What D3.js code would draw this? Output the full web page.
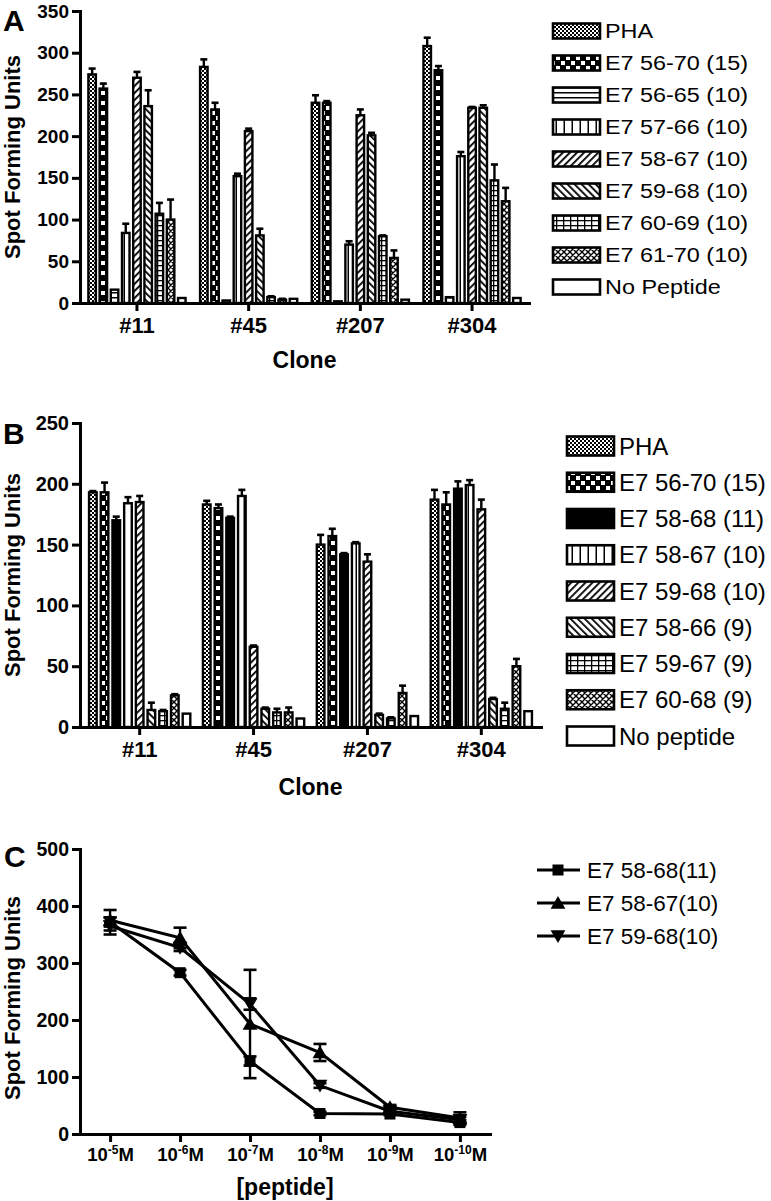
<!DOCTYPE html>
<html><head><meta charset="utf-8">
<script src="https://cdn.jsdelivr.net/npm/d3@7"></script>
<style>body{margin:0;background:#fff} svg text{font-family:Arial,"Liberation Sans",sans-serif}</style>
</head><body>
<svg id="c" width="771" height="1201"></svg>
<script>
// ---------- Panel A data ----------
const clonesA = ["#11", "#45", "#207", "#304"];
const seriesA = ["PHA", "E7 56-70 (15)", "E7 56-65 (10)", "E7 57-66 (10)", "E7 58-67 (10)", "E7 59-68 (10)", "E7 60-69 (10)", "E7 61-70 (10)", "No Peptide"];
const a_PHA = [274, 283, 240, 308],  a_PHA_err = [7, 9, 9, 10];
const a_5670 = [257, 232, 240, 279], a_5670_err = [6, 8, 2, 5];
const a_5665 = [16, 3, 2, 7],        a_5665_err = [0, 0, 0, 0];
const a_5766 = [84, 152, 70, 176],   a_5766_err = [11, 3, 4, 5];
const a_5867 = [270, 206, 225, 234], a_5867_err = [7, 3, 7, 1];
const a_5968 = [236, 81, 201, 234],  a_5968_err = [19, 8, 3, 3];
const a_6069 = [107, 7, 80, 147],    a_6069_err = [13, 1, 1, 19];
const a_6170 = [100, 4, 54, 122],    a_6170_err = [24, 1, 9, 16];
const a_NoPep = [6, 5, 4, 6],        a_NoPep_err = [0, 0, 0, 0];
const yTicksA = [0, 50, 100, 150, 200, 250, 300, 350];

// ---------- Panel B data ----------
const clonesB = ["#11", "#45", "#207", "#304"];
const seriesB = ["PHA", "E7 56-70 (15)", "E7 58-68 (11)", "E7 58-67 (10)", "E7 59-68 (10)", "E7 58-66 (9)", "E7 59-67 (9)", "E7 60-68 (9)", "No peptide"];
const b_PHA = [193, 183, 150, 187],  b_PHA_err = [1, 3, 8, 8];
const b_5670 = [193, 180, 157, 183], b_5670_err = [8, 3, 6, 10];
const b_5868 = [170, 172, 142, 196], b_5868_err = [3, 1, 1, 6];
const b_5867 = [184, 190, 151, 199], b_5867_err = [5, 5, 1, 4];
const b_5968 = [185, 66, 136, 179],  b_5968_err = [5, 1, 6, 8];
const b_5866 = [14, 15, 10, 23],     b_5866_err = [6, 1, 1, 1];
const b_5967 = [13, 12, 7, 15],      b_5967_err = [1, 3, 1, 5];
const b_6068 = [26, 12, 28, 50],     b_6068_err = [1, 4, 6, 6];
const b_NoPep = [11, 7, 9, 13],      b_NoPep_err = [0, 0, 0, 0];
const yTicksB = [0, 50, 100, 150, 200, 250];

// ---------- Panel C data ----------
const concExp = ["-5", "-6", "-7", "-8", "-9", "-10"];
const seriesC = ["E7 58-68(11)", "E7 58-67(10)", "E7 59-68(10)"];
const c_5868 = [372, 283, 128, 36, 35, 20],  c_5868_err = [8, 5, 8, 3, 2, 4];
const c_5867 = [375, 344, 193, 143, 47, 28], c_5867_err = [18, 18, 95, 15, 4, 10];
const c_5968 = [365, 327, 228, 85, 40, 25],  c_5968_err = [15, 6, 10, 4, 3, 5];
const yTicksC = [0, 100, 200, 300, 400, 500];

// ---------- setup ----------
const svg = d3.select("#c");
const defs = svg.append("defs");
function pat(id, w, h, build, transform) {
  const p = defs.append("pattern").attr("id", id).attr("patternUnits", "userSpaceOnUse")
    .attr("width", w).attr("height", h);
  if (transform) p.attr("patternTransform", transform);
  p.append("rect").attr("width", w).attr("height", h).attr("fill", "#fff");
  build(p);
}
pat("pha", 4, 4, p => {
  p.append("rect").attr("width", 2).attr("height", 2);
  p.append("rect").attr("x", 2).attr("y", 2).attr("width", 2).attr("height", 2);
});
pat("chk", 10, 10, p => {
  p.append("rect").attr("width", 10).attr("height", 10).attr("fill", "#000");
  p.append("rect").attr("x", 1).attr("y", 1).attr("width", 4).attr("height", 4).attr("fill", "#fff");
  p.append("rect").attr("x", 6).attr("y", 6).attr("width", 4).attr("height", 4).attr("fill", "#fff");
});
pat("hor", 6, 5, p => p.append("rect").attr("y", 2).attr("width", 6).attr("height", 1.5));
pat("ver", 8, 6, p => p.append("rect").attr("x", 3.5).attr("width", 1.5).attr("height", 6));
pat("dr", 5, 5, p => p.append("rect").attr("width", 1.8).attr("height", 5), "rotate(45)");
pat("dl", 5, 5, p => p.append("rect").attr("width", 1.8).attr("height", 5), "rotate(-45)");
pat("grid", 7, 5, p => {
  p.append("rect").attr("width", 7).attr("height", 1.3);
  p.append("rect").attr("x", 3).attr("width", 1.3).attr("height", 5);
});
pat("cross", 6, 6, p => p.append("path").attr("d", "M0,0L6,6M6,0L0,6M-1,5L1,7M5,-1L7,1M-1,1L1,-1M5,7L7,5")
  .attr("stroke", "#000").attr("stroke-width", 1.4));

const FONT = 'Arial, "Liberation Sans", sans-serif';

function styleAxis(g, fs) {
  g.attr("font-family", FONT).attr("font-size", fs).attr("font-weight", "bold");
  g.selectAll("path.domain").attr("stroke-width", 3).attr("stroke-linecap", "square");
  g.selectAll(".tick line").attr("stroke-width", 3);
  g.selectAll(".tick text").attr("fill", "#000");
}

function barPanel(cfg) {
  const y = d3.scaleLinear().domain([0, cfg.yMax]).range([cfg.y0, cfg.yTop]);
  const x0 = d3.scaleBand().domain(cfg.clones).range([cfg.xl, cfg.xr])
    .paddingInner(cfg.pi).paddingOuter(cfg.po);
  const x1 = d3.scaleBand().domain(cfg.series).range([0, x0.bandwidth()])
    .paddingInner(cfg.pi1).paddingOuter(cfg.po1);
  const g = svg.append("g");
  cfg.series.forEach((s, si) => {
    const vals = cfg.values[si], errs = cfg.errors[si];
    const gs = g.append("g");
    const cx = c => x0(c) + x1(s) + x1.bandwidth() / 2;
    const eb = gs.selectAll("g.eb").data(cfg.clones.map((c, i) => ({c, v: vals[i], e: errs[i]})).filter(d => d.e > 0))
      .join("g").attr("class", "eb");
    eb.append("line").attr("x1", d => cx(d.c)).attr("x2", d => cx(d.c))
      .attr("y1", d => y(d.v)).attr("y2", d => y(d.v + d.e)).attr("stroke", "#000").attr("stroke-width", 2.4);
    eb.append("line").attr("x1", d => cx(d.c) - 3.5).attr("x2", d => cx(d.c) + 3.5)
      .attr("y1", d => y(d.v + d.e)).attr("y2", d => y(d.v + d.e)).attr("stroke", "#000").attr("stroke-width", 2.6);
    gs.selectAll("rect").data(cfg.clones).join("rect")
      .attr("x", c => x0(c) + x1(s)).attr("y", (c, i) => y(vals[i]))
      .attr("width", x1.bandwidth()).attr("height", (c, i) => y(0) - y(vals[i]))
      .attr("fill", cfg.fills[si]).attr("stroke", "#000").attr("stroke-width", 2.4);
  });
  const ya = g.append("g").attr("transform", `translate(${cfg.xl},0)`)
    .call(d3.axisLeft(y).tickValues(cfg.yTicks).tickSize(8).tickSizeOuter(0).tickPadding(3));
  styleAxis(ya, cfg.yFont);
  const xa = g.append("g").attr("transform", `translate(0,${cfg.y0})`)
    .call(d3.axisBottom(x0).tickSize(8).tickSizeOuter(0).tickPadding(6));
  styleAxis(xa, 22);
  g.append("text").attr("x", (cfg.xl + cfg.xr) / 2).attr("y", cfg.titleY).attr("text-anchor", "middle")
    .attr("font-size", 23).attr("font-weight", "bold").text("Clone");
  g.append("text").attr("transform", `translate(20,${(cfg.y0 + cfg.yTop) / 2}) rotate(-90)`)
    .attr("text-anchor", "middle").attr("font-size", 22).attr("font-weight", "bold").text("Spot Forming Units");
  g.append("text").attr("x", 3).attr("y", cfg.letterY).attr("font-size", 30).attr("font-weight", "bold").text(cfg.letter);
  const lg = g.append("g");
  cfg.series.forEach((s, si) => {
    const cy = cfg.lgY0 + cfg.lgStep * si;
    lg.append("rect").attr("x", cfg.lgX).attr("y", cy - cfg.swH / 2).attr("width", 47).attr("height", cfg.swH)
      .attr("fill", cfg.fills[si]).attr("stroke", "#000").attr("stroke-width", 2.6);
    lg.append("text").attr("transform", `translate(${cfg.lgX + 52},${cy + cfg.lgBase}) scale(${cfg.lgScale},1)`)
      .attr("font-size", cfg.lgFont).text(s);
  });
}

barPanel({
  letter: "A", letterY: 31, clones: clonesA, series: seriesA,
  values: [a_PHA, a_5670, a_5665, a_5766, a_5867, a_5968, a_6069, a_6170, a_NoPep],
  errors: [a_PHA_err, a_5670_err, a_5665_err, a_5766_err, a_5867_err, a_5968_err, a_6069_err, a_6170_err, a_NoPep_err],
  fills: ["url(#pha)", "url(#chk)", "url(#hor)", "url(#ver)", "url(#dr)", "url(#dl)", "url(#grid)", "url(#cross)", "#fff"],
  yMax: 350, yTicks: yTicksA, y0: 303, yTop: 11, xl: 80, xr: 529, pi: 0.1, po: 0.06, pi1: 0.33, po1: 0.15,
  yFont: 19, titleY: 368,
  lgX: 553, lgY0: 31, lgStep: 32, swH: 15, lgFont: 19.5, lgScale: 1.2, lgBase: 7
});

barPanel({
  letter: "B", letterY: 444, clones: clonesB, series: seriesB,
  values: [b_PHA, b_5670, b_5868, b_5867, b_5968, b_5866, b_5967, b_6068, b_NoPep],
  errors: [b_PHA_err, b_5670_err, b_5868_err, b_5867_err, b_5968_err, b_5866_err, b_5967_err, b_6068_err, b_NoPep_err],
  fills: ["url(#pha)", "url(#chk)", "#000", "url(#ver)", "url(#dr)", "url(#dl)", "url(#grid)", "url(#cross)", "#fff"],
  yMax: 250, yTicks: yTicksB, y0: 727, yTop: 423, xl: 80, xr: 541, pi: 0.08, po: 0.064, pi1: 0.35, po1: 0.15,
  yFont: 20, titleY: 795,
  lgX: 567, lgY0: 446, lgStep: 36.25, swH: 19, lgFont: 24, lgScale: 1, lgBase: 8.5
});

// ---------- Panel C ----------
(function () {
  const y = d3.scaleLinear().domain([0, 500]).range([1134, 849]);
  const x = d3.scalePoint().domain(concExp).range([80, 490]).padding(0.43);
  const g = svg.append("g");
  const data = [c_5868, c_5867, c_5968];
  const errs = [c_5868_err, c_5867_err, c_5968_err];
  const shapes = [d3.symbolSquare, d3.symbolTriangle, d3.symbolTriangle];
  const sizes = [121, 95, 95];
  const rots = [0, 0, 180];
  const line = d3.line().x((d, i) => x(concExp[i])).y(d => y(d));
  data.forEach(vals => g.append("path").attr("d", line(vals)).attr("fill", "none")
    .attr("stroke", "#000").attr("stroke-width", 3));
  data.forEach((vals, si) => {
    const e = errs[si];
    concExp.forEach((c, i) => {
      if (e[i] <= 0) return;
      const cx = x(c);
      g.append("line").attr("x1", cx).attr("x2", cx).attr("y1", y(vals[i] - e[i])).attr("y2", y(vals[i] + e[i]))
        .attr("stroke", "#000").attr("stroke-width", 2.4);
      [vals[i] - e[i], vals[i] + e[i]].forEach(v => g.append("line").attr("x1", cx - 6.5).attr("x2", cx + 6.5)
        .attr("y1", y(v)).attr("y2", y(v)).attr("stroke", "#000").attr("stroke-width", 2.6));
    });
  });
  data.forEach((vals, si) => {
    g.selectAll(null).data(vals).join("path")
      .attr("d", d3.symbol(shapes[si], sizes[si]))
      .attr("transform", (d, i) => `translate(${x(concExp[i])},${y(d) + (si === 1 ? 1.5 : si === 2 ? -1.5 : 0)}) rotate(${rots[si]})`)
      .attr("fill", "#000");
  });
  const ya = g.append("g").attr("transform", "translate(80,0)")
    .call(d3.axisLeft(y).tickValues(yTicksC).tickSize(8).tickSizeOuter(0).tickPadding(3));
  styleAxis(ya, 19.5);
  const xa = g.append("g").attr("transform", "translate(0,1134)")
    .call(d3.axisBottom(x).tickSize(8).tickSizeOuter(0).tickPadding(6));
  styleAxis(xa, 18.5);
  xa.selectAll(".tick text").each(function (d) {
    const t = d3.select(this);
    t.text(null);
    t.append("tspan").text("10");
    t.append("tspan").attr("dy", -7).attr("font-size", 12).text(d);
    t.append("tspan").attr("dy", 7).text("M");
  });
  g.append("text").attr("x", 285).attr("y", 1195).attr("text-anchor", "middle")
    .attr("font-size", 23).attr("font-weight", "bold").text("[peptide]");
  g.append("text").attr("transform", "translate(20,998) rotate(-90)")
    .attr("text-anchor", "middle").attr("font-size", 22).attr("font-weight", "bold").text("Spot Forming Units");
  g.append("text").attr("x", 4).attr("y", 867).attr("font-size", 30).attr("font-weight", "bold").text("C");
  seriesC.forEach((s, si) => {
    const cy = 870 + 33 * si;
    g.append("line").attr("x1", 537).attr("x2", 580).attr("y1", cy).attr("y2", cy)
      .attr("stroke", "#000").attr("stroke-width", 3);
    g.append("path").attr("d", d3.symbol(shapes[si], sizes[si]))
      .attr("transform", `translate(558,${cy + (si === 1 ? 1.5 : si === 2 ? -1.5 : 0)}) rotate(${rots[si]})`).attr("fill", "#000");
    g.append("text").attr("x", 587).attr("y", cy + 8).attr("font-size", 22.5).text(s);
  });
})();
</script>
</body></html>
